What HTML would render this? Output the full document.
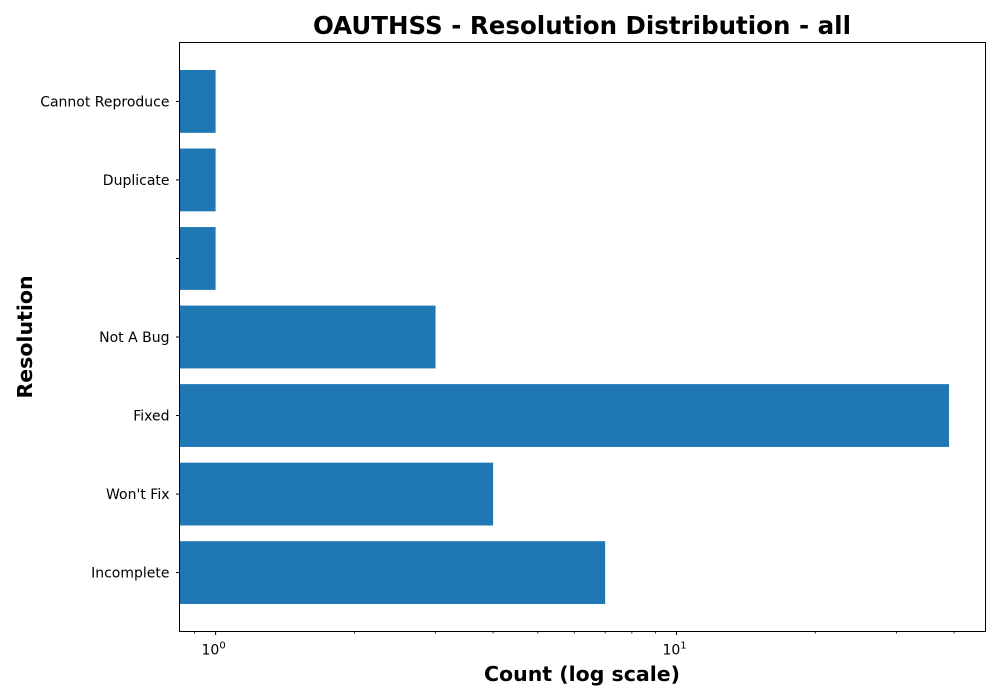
<!DOCTYPE html>
<html><head><meta charset="utf-8"><style>
body{margin:0;background:#fff;}
svg{display:block;font-family:"DejaVu Sans","Liberation Sans",sans-serif;}
</style></head><body>
<svg id="chart" width="1000" height="700">
<text x="582" y="34" text-anchor="middle" font-size="24.5" font-weight="bold">OAUTHSS - Resolution Distribution - all</text>
<text x="582" y="681" text-anchor="middle" font-size="20.5" font-weight="bold">Count (log scale)</text>
<text x="32" y="337" text-anchor="middle" font-size="20.5" font-weight="bold" transform="rotate(-90 32 337)">Resolution</text>
<g id="bars"></g><g id="ticks"></g>
<rect x="179.5" y="42.5" width="806" height="589" fill="none" stroke="#000" stroke-width="1"/>
</svg>
<script>
const categories = ["Incomplete","Won't Fix","Fixed","Not A Bug","","Duplicate","Cannot Reproduce"];
const counts = [7,4,39,3,1,1,1];
const majorTicks = [1,10];
const minorTicks = [0.9,2,3,4,5,6,7,8,9,20,30,40];
const NS="http://www.w3.org/2000/svg";
const L=179.5,R=985.5,T=42.5,B=631.5;
const lmin=Math.log10(0.835), lmax=Math.log10(46.8);
const xs=v=>L+(Math.log10(v)-lmin)/(lmax-lmin)*(R-L);
const n=categories.length, span=(B-T)/(n-1+1.5);
const ys=i=>B-(0.75+i)*span;
const bh=0.8*span;
function mk(tag,attrs,parent){const e=document.createElementNS(NS,tag);for(const k in attrs)e.setAttribute(k,attrs[k]);parent.appendChild(e);return e;}
const gb=document.getElementById('bars'), gt=document.getElementById('ticks');
categories.forEach((c,i)=>{
  const r=mk('rect',{x:L,y:ys(i)-bh/2,width:Math.max(0,xs(counts[i])-L),height:bh,fill:'#1f77b4'},gb);
  
  
  mk('line',{x1:L-3.5,x2:L,y1:ys(i),y2:ys(i),stroke:'#000'},gt);
  const t=mk('text',{x:L-10,y:ys(i)+5,'text-anchor':'end','font-size':14},gt);
  t.textContent=c;
  
  
});
majorTicks.forEach(v=>{
  const x=xs(v);
  mk('line',{x1:x,x2:x,y1:B,y2:B+3.5,stroke:'#000'},gt);
  const t=mk('text',{x:x-2,y:B+23,'text-anchor':'middle','font-size':14},gt);
  t.textContent='10';
  const s=mk('tspan',{dy:-6,'font-size':10},t);
  s.textContent=String(Math.round(Math.log10(v)));
  
  
});
minorTicks.forEach(v=>{
  const x=xs(v);
  mk('line',{x1:x,x2:x,y1:B,y2:B+2,stroke:'#000','stroke-width':0.8},gt);
});
</script>
</body></html>
